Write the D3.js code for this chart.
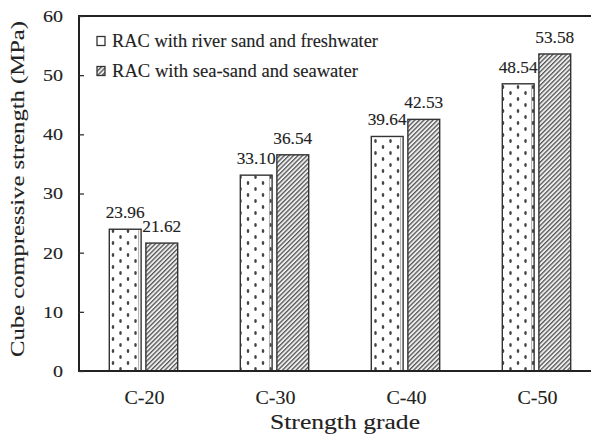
<!DOCTYPE html>
<html>
<head>
<meta charset="utf-8">
<script src="https://cdn.jsdelivr.net/npm/d3@7"></script>
<style>
  html, body { margin: 0; padding: 0; background: #fff; }
  svg { display: block; }
  svg text { font-family: "Liberation Serif", "Times New Roman", Times, serif; fill: #222; stroke: #222; stroke-width: 0.12px; }
</style>
</head>
<body>
<svg id="chart" width="591" height="434"></svg>
<script>
// ---- data ----
const categories = ["C-20", "C-30", "C-40", "C-50"];
const seriesNames = ["RAC with river sand and freshwater", "RAC with sea-sand and seawater"];
const riverFresh = [23.96, 33.10, 39.64, 48.54];
const seaSea = [21.62, 36.54, 42.53, 53.58];
const valueLabels = [["23.96", "33.10", "39.64", "48.54"], ["21.62", "36.54", "42.53", "53.58"]];
const yTicks = [0, 10, 20, 30, 40, 50, 60];
const yTitle = "Cube compressive strength (MPa)";
const xTitle = "Strength  grade";

const seriesValues = [riverFresh, seaSea];

(function draw() {
const FONT = "'Liberation Serif', 'Times New Roman', Times, serif";
const svg = d3.select("#chart");
const pLeft = 79, pTop = 16, pRight = 603, pBottom = 371;

// patterns
const defs = svg.append("defs");
const dots = defs.append("pattern").attr("id", "dots").attr("patternUnits", "userSpaceOnUse")
  .attr("x", 109).attr("width", 15).attr("height", 12);
dots.append("rect").attr("width", 15).attr("height", 12).attr("fill", "#fff");
dots.append("ellipse").attr("cx", 4).attr("cy", 3).attr("rx", 1.3).attr("ry", 2.1).attr("fill", "#444");
dots.append("ellipse").attr("cx", 11.5).attr("cy", 9).attr("rx", 1.3).attr("ry", 2.1).attr("fill", "#444");

const hatch = defs.append("pattern").attr("id", "hatch").attr("patternUnits", "userSpaceOnUse")
  .attr("width", 3.2).attr("height", 3.2).attr("patternTransform", "rotate(45)");
hatch.append("rect").attr("width", 3.2).attr("height", 3.2).attr("fill", "#eeeeee");
hatch.append("rect").attr("x", 0).attr("y", 0).attr("width", 1.3).attr("height", 3.2).attr("fill", "#555");

const fills = ["url(#dots)", "url(#hatch)"];

// scales
const x0 = d3.scaleBand().domain(categories).range([pLeft, pRight]).paddingInner(0).paddingOuter(0);
const x1 = d3.scaleBand().domain([0, 1]).range([30.3, 98.7]).paddingInner(0.13).paddingOuter(0);
const y = d3.scaleLinear().domain([0, 60]).range([pBottom, pTop]);

function stretch(sel, len) {
  sel.attr("font-family", FONT).attr("textLength", len).attr("lengthAdjust", "spacingAndGlyphs");
  return sel;
}

// bars
categories.forEach((c, i) => {
  seriesValues.forEach((vals, s) => {
    const bx = x0(c) + x1(s);
    const bw = x1.bandwidth();
    svg.append("rect")
      .attr("x", bx).attr("y", y(vals[i]))
      .attr("width", bw).attr("height", y(0) - y(vals[i]))
      .attr("fill", fills[s]).attr("stroke", "#333").attr("stroke-width", 1.4);
    if (s === 0) {
      svg.append("line")
        .attr("x1", bx + bw - 2.5).attr("x2", bx + bw - 2.5)
        .attr("y1", y(vals[i]) + 1).attr("y2", y(0))
        .attr("stroke", "#999").attr("stroke-width", 0.8);
    }
    const t = svg.append("text")
      .attr("x", bx + bw / 2).attr("y", y(vals[i]) - 11)
      .attr("text-anchor", "middle").attr("font-size", 16)
      .text(valueLabels[s][i]);
    stretch(t, 39);
  });
});

// frame
svg.append("rect").attr("x", pLeft).attr("y", pTop).attr("width", pRight - pLeft).attr("height", pBottom - pTop)
  .attr("fill", "none").attr("stroke", "#222").attr("stroke-width", 2);

// y axis ticks (inside) and labels
const yAxis = d3.axisLeft(y).tickValues(yTicks).tickSizeInner(-5).tickSizeOuter(0).tickPadding(16);
const gy = svg.append("g").attr("transform", `translate(${pLeft},0)`).call(yAxis);
gy.select(".domain").remove();
gy.selectAll(".tick line").attr("stroke", "#333").attr("stroke-width", 1.3);
gy.selectAll(".tick text")
  .attr("font-size", 17).attr("fill", "#222")
  .each(function(d) { stretch(d3.select(this), String(d).length * 10); });

// x axis labels
const xAxis = d3.axisBottom(x0).tickSize(0).tickPadding(20);
const gx = svg.append("g").attr("transform", `translate(0,${pBottom})`).call(xAxis);
gx.select(".domain").remove();
gx.selectAll(".tick text")
  .attr("font-size", 19).attr("fill", "#222")
  .attr("dy", "0.71em")
  .each(function() { stretch(d3.select(this), 40); });

// axis titles
stretch(svg.append("text").attr("x", 345).attr("y", 429).attr("text-anchor", "middle")
  .attr("font-size", 21).text(xTitle), 150);

stretch(svg.append("text").attr("transform", "translate(24,189) rotate(-90)")
  .attr("text-anchor", "middle").attr("font-size", 19).text(yTitle), 336);

// legend
const legendY = [41, 71];
const legendLen = [266, 246];
seriesNames.forEach((name, s) => {
  svg.append("rect").attr("x", 97).attr("y", legendY[s] - 4.5).attr("width", 8).attr("height", 9)
    .attr("fill", s === 0 ? "#fff" : "url(#hatch)").attr("stroke", "#333").attr("stroke-width", 1.3);
  stretch(svg.append("text").attr("x", 112).attr("y", legendY[s] + 6)
    .attr("font-size", 18).text(name), legendLen[s]);
});
})();
</script>
</body>
</html>
